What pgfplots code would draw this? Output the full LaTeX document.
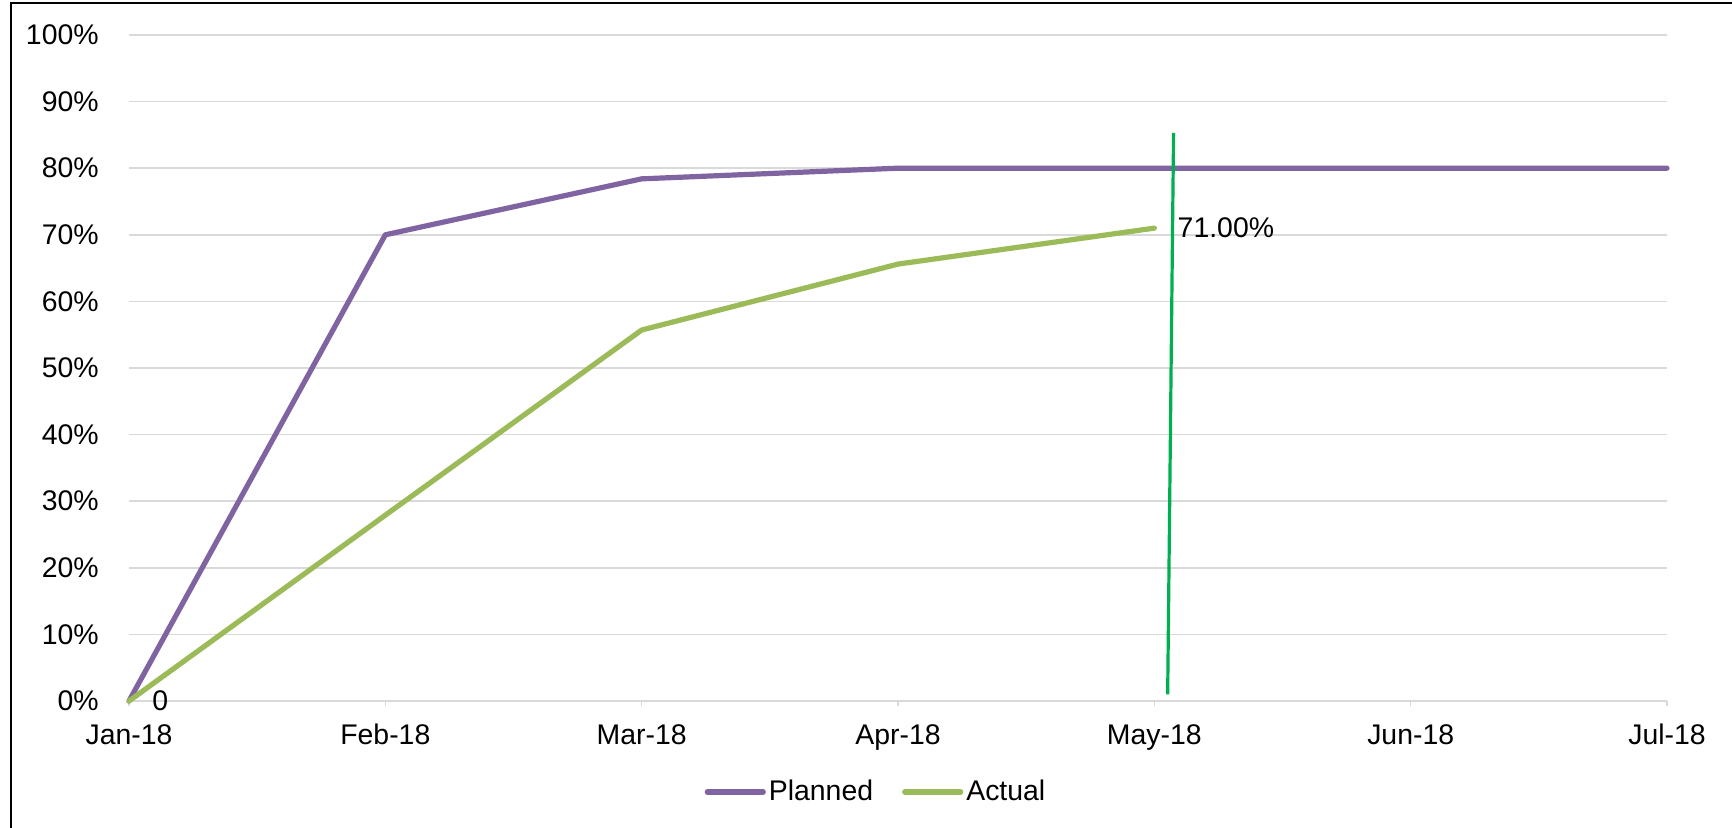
\documentclass[border=0pt]{standalone}
\usepackage{fontspec}
\setmainfont{Liberation Sans}
\usepackage{pgfplots}
\pgfplotsset{compat=1.18}
\definecolor{cplan}{HTML}{8064A2}
\definecolor{cact}{HTML}{9BBB59}
\definecolor{cvl}{HTML}{00B050}
\definecolor{cgrid}{HTML}{D9D9D9}
\begin{document}
\fontsize{14.2}{17}\selectfont
\begin{tikzpicture}
\path[use as bounding box] (0,0) rectangle (866pt,414pt);
\draw[line width=1pt] (5.5pt,-5pt) -- (5.5pt,412.5pt) -- (870pt,412.5pt);
\begin{axis}[
  at={(64.5pt,63.5pt)}, anchor=south west,
  scale only axis, width=769pt, height=333pt,
  xmin=0, xmax=6, ymin=0, ymax=100,
  clip=false,
  xtick={0,1,2,3,4,5,6},
  xticklabels={Jan-18,Feb-18,Mar-18,Apr-18,May-18,Jun-18,Jul-18},
  ytick={0,10,20,30,40,50,60,70,80,90,100},
  yticklabels={0\%,10\%,20\%,30\%,40\%,50\%,60\%,70\%,80\%,90\%,100\%},
  axis line style={draw=none},
  ymajorgrids, major grid style={cgrid, line width=0.8pt},
  xtick pos=bottom, tick align=outside, major tick length=2.5pt,
  xtick style={cgrid, line width=0.8pt},
  ytick style={draw=none},
  xticklabel style={anchor=north, inner sep=0pt, yshift=-9pt},
  yticklabel style={anchor=east, inner sep=0pt, xshift=-12.5pt},
  legend style={at={(0.486,-0.1366)}, anchor=center, draw=none, fill=none,
    legend columns=2, inner sep=0pt, nodes={inner sep=1.5pt},
    /tikz/every even column/.append style={column sep=13pt}},
  legend cell align=left,
  legend image code/.code={\draw[#1, line width=2.6pt, line cap=round] (0pt,0pt) -- (28pt,0pt);},
]
\addplot[cplan, line width=2.6pt, line cap=round, line join=round]
  coordinates {(0,0) (1,70) (2,78.4) (3,80) (4,80) (5,80) (6,80)};
\addlegendentry{Planned}
\addplot[cact, line width=2.6pt, line cap=round, line join=round]
  coordinates {(0,0) (1,27.9) (2,55.7) (3,65.6) (4,71)};
\addlegendentry{Actual}
\addplot[cvl, line width=1.6pt, forget plot]
  coordinates {(4.052,1) (4.075,85.3)};
\addplot[draw=none, forget plot, nodes near coords, point meta=explicit symbolic,
  every node near coord/.style={anchor=west, inner sep=0pt, xshift=11.5pt, text=black}]
  coordinates {(0,0) [0] (4,71) [71.00\%]};
\end{axis}
\end{tikzpicture}
\end{document}
